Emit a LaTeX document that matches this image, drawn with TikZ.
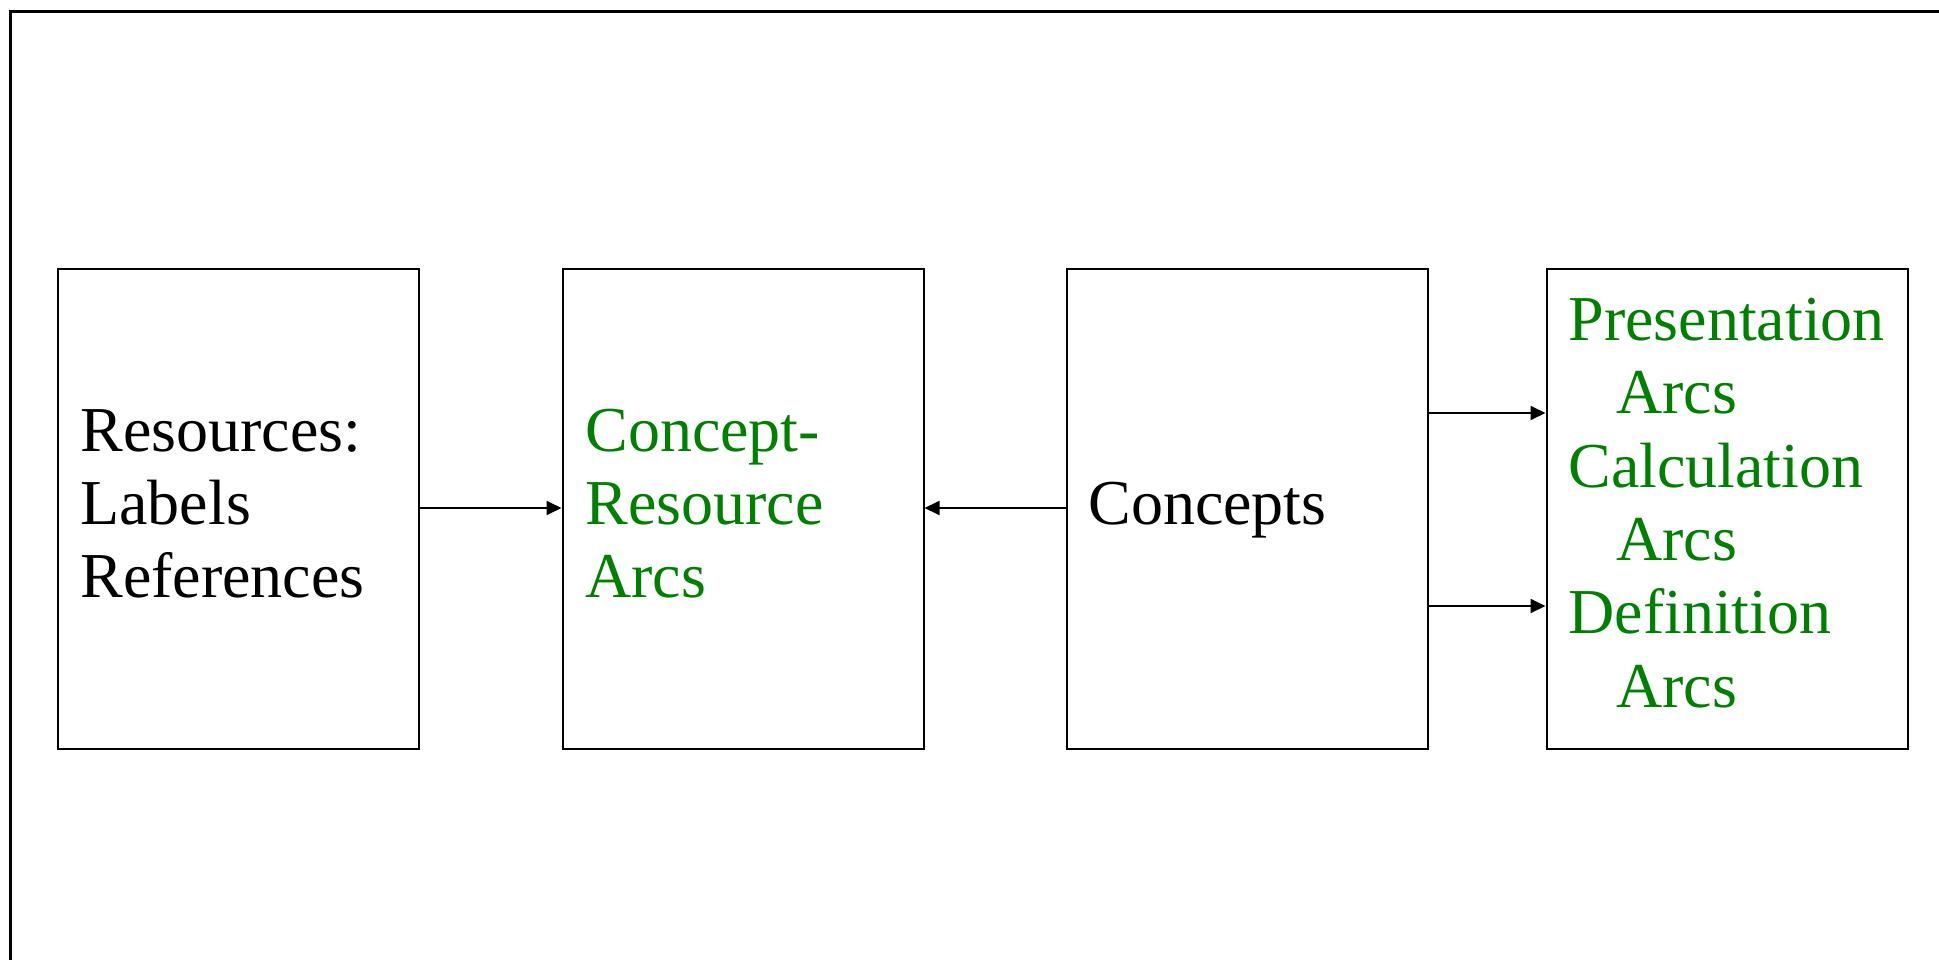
\documentclass[tikz,border=0pt]{standalone}
\usepackage{fontspec}
\setmainfont{Liberation Serif}
\usetikzlibrary{arrows.meta}
\definecolor{arcgreen}{RGB}{0,128,0}
\begin{document}
\begin{tikzpicture}[x=0.5pt,y=-0.5pt,
  box/.style={draw, line width=1pt, minimum width=180.5pt, minimum height=240pt, inner sep=0pt},
  txt/.style={anchor=base west, inner sep=0pt, font=\fontsize{32}{36.7}\selectfont},
  arc/.style={txt, text=arcgreen},
  link/.style={line width=0.9pt, -{Triangle[length=7.5pt,width=7pt]}}]
\useasboundingbox (0,0) rectangle (1939,959);
% outer frame, open to the right and bottom
\draw[line width=1.5pt] (10.7,990) -- (10.7,11.3) -- (1990,11.3);

% boxes
\node[box] (res) at (238.5,509) {};
\node[box] (cra) at (743,509) {};
\node[box] (con) at (1247,509) {};
\node[box] (arcs) at (1727,509) {};

% box texts
\node[txt] (r1) at (80,451) {Resources:};
\node[txt] (r2) at (80,524) {Labels};
\node[txt] (r3) at (80,597) {References};

\node[arc] (c1) at (585,451) {Concept-};
\node[arc] (c2) at (585,524) {Resource};
\node[arc] (c3) at (585,597) {Arcs};

\node[txt] (k1) at (1088,524) {Concepts};

\node[arc] (a1) at (1568,340) {Presentation};
\node[arc] (a2) at (1616,413) {Arcs};
\node[arc] (a3) at (1568,487) {Calculation};
\node[arc] (a4) at (1616,560) {Arcs};
\node[arc] (a5) at (1568,633) {Definition};
\node[arc] (a6) at (1616,707) {Arcs};

% connectors
\draw[link] ([yshift=0.5pt]res.east) -- ([yshift=0.5pt]cra.west);
\draw[link] ([yshift=0.5pt]con.west) -- ([yshift=0.5pt]cra.east);
\draw[link] ([yshift=48pt]con.east) -- ([yshift=48pt]arcs.west);
\draw[link] ([yshift=-48.5pt]con.east) -- ([yshift=-48.5pt]arcs.west);
\end{tikzpicture}
\end{document}
